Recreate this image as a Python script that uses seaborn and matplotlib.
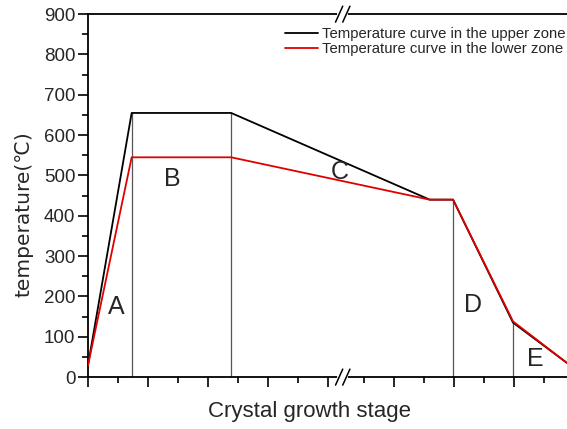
import numpy as np
import pandas as pd
import seaborn as sns
import matplotlib.pyplot as plt
from matplotlib.ticker import FixedLocator

# stage positions (arbitrary x units)
stage_x = [0.0, 0.73, 2.39, 5.70, 6.09, 7.09, 7.99]
upper_zone = [28, 655, 655, 440, 440, 135, 35]
lower_zone = [28, 545, 545, 440, 440, 138, 35]
series_names = ["Temperature curve in the upper zone", "Temperature curve in the lower zone"]
divider_x = [0.73, 2.39, 6.09, 7.09]
divider_top = [655, 655, 440, 137]
stage_labels = ["A", "B", "C", "D", "E"]
label_x = [0.47, 1.4, 4.2, 6.43, 7.46]
label_y = [175, 490, 508, 178, 45]
major_ticks = [0, 1, 2, 3, 4, 5.1, 6.1, 7.1]
minor_ticks = [0.5, 1.5, 2.5, 3.5, 4.6, 5.6, 6.6, 7.6]
break_x = 4.25

df = pd.concat([
    pd.DataFrame({"x": stage_x, "y": upper_zone, "zone": series_names[0]}),
    pd.DataFrame({"x": stage_x, "y": lower_zone, "zone": series_names[1]}),
])

sns.set_theme(style="white")
plt.rcParams['font.family'] = ['Liberation Sans', 'DejaVu Sans']
fig = plt.figure(figsize=(5.67, 4.29), dpi=100)
ax = fig.add_axes([0.155, 0.121, 0.845, 0.846])

for xv, top in zip(divider_x, divider_top):
    ax.plot([xv, xv], [0, top], color="#555555", lw=0.9, zorder=1)

sns.lineplot(data=df, x="x", y="y", hue="zone", palette=["black", "#e00000"],
             ax=ax, lw=1.3, sort=False, zorder=3)

for t, xv, yv in zip(stage_labels, label_x, label_y):
    ax.text(xv, yv, t, fontsize=18, ha="center", va="center", zorder=4)

ax.set_xlim(0, 7.99)
ax.set_ylim(0, 900)
ax.set_yticks(np.arange(0, 901, 100))
ax.yaxis.set_minor_locator(FixedLocator(np.arange(50, 900, 100)))
ax.xaxis.set_major_locator(FixedLocator(major_ticks))
ax.xaxis.set_minor_locator(FixedLocator(minor_ticks))
ax.set_xticklabels([])
ax.tick_params(axis="both", which="major", direction="out", length=7, width=1.2,
               color="black", bottom=True, left=True, labelsize=13.5, pad=2)
ax.tick_params(axis="both", which="minor", direction="out", length=4, width=1.2,
               color="black", bottom=True, left=True)
for s in ["left", "bottom", "top"]:
    ax.spines[s].set_visible(True)
    ax.spines[s].set_color("black")
    ax.spines[s].set_linewidth(1.3)
ax.spines["right"].set_visible(False)

ax.set_xlabel("Crystal growth stage", fontsize=16, labelpad=10)
ax.xaxis.set_label_coords(0.463, -0.065, transform=ax.transAxes)
ax.xaxis.label.set_va("top")
ax.set_ylabel("temperature(℃)", fontsize=14.5, family=['DejaVu Sans'])
ax.yaxis.set_label_coords(-0.134, 0.45, transform=ax.transAxes)
ax.yaxis.label.set_va("center")

# axis break marks
for yb in (0, 1):
    ax.plot([break_x - 0.06, break_x + 0.06], [yb, yb], transform=ax.get_xaxis_transform(),
            color="white", lw=3, clip_on=False, zorder=5)
    for dx in (-0.06, 0.06):
        ax.plot([break_x + dx - 0.06, break_x + dx + 0.06], [yb - 0.022, yb + 0.022],
                transform=ax.get_xaxis_transform(), color="black", lw=1.1,
                clip_on=False, zorder=6)

leg = ax.legend(loc="upper left", frameon=False, fontsize=10.7, handlelength=2.2,
                handletextpad=0.25, borderaxespad=0.0, labelspacing=0.05,
                bbox_to_anchor=(0.40, 0.98))
leg.set_title(None)

fig.savefig("out.png", dpi=100)
